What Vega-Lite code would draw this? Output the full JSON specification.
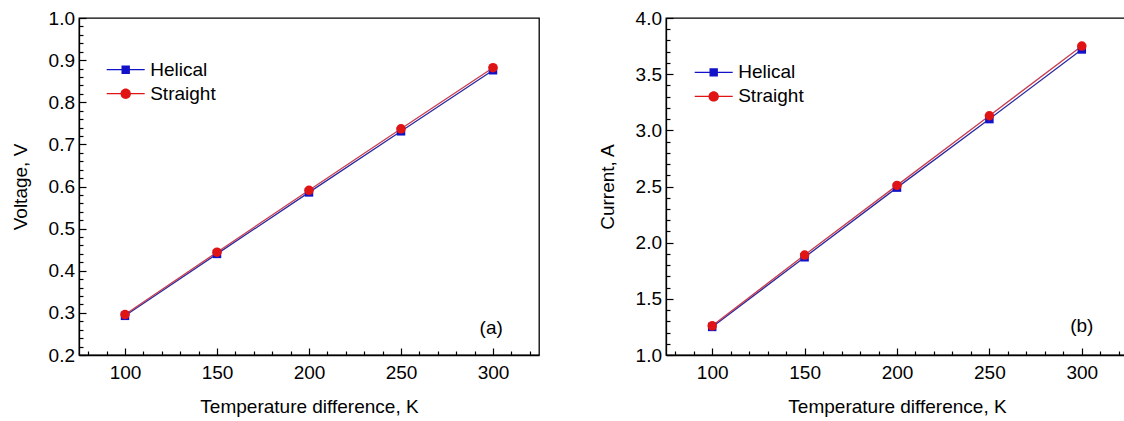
{
  "$schema": "https://vega.github.io/schema/vega-lite/v6.json",
  "background": "white",
  "padding": {"left": 10, "top": 8, "right": 0, "bottom": 0},
  "config": {
    "font": "Liberation Sans",
    "view": {"stroke": "black", "strokeWidth": 1.3},
    "axis": {
      "grid": false,
      "domainColor": "black",
      "domainWidth": 1.3,
      "tickColor": "black",
      "tickWidth": 1.2,
      "labelFont": "Liberation Sans",
      "labelFontSize": 19,
      "labelColor": "black",
      "titleFont": "Liberation Sans",
      "titleFontSize": 19,
      "titleFontWeight": "normal",
      "titleColor": "black",
      "labelOverlap": false,
      "labelBound": false,
      "labelFlush": false
    },
    "legend": {
      "title": null, "padding": 0,
      "labelFontSize": 19, "labelColor": "black", "labelFont": "Liberation Sans",
      "symbolSize": 400, "symbolStrokeWidth": 0, "symbolOpacity": 1, "labelOffset": 14.5, "rowPadding": 4
    }
  },
  "datasets": {
    "voltage": [
      {"series": "Helical", "dT": 100, "value": 0.293},
      {"series": "Helical", "dT": 150, "value": 0.440},
      {"series": "Helical", "dT": 200, "value": 0.586},
      {"series": "Helical", "dT": 250, "value": 0.731},
      {"series": "Helical", "dT": 300, "value": 0.876},
      {"series": "Straight", "dT": 100, "value": 0.296},
      {"series": "Straight", "dT": 150, "value": 0.444},
      {"series": "Straight", "dT": 200, "value": 0.591},
      {"series": "Straight", "dT": 250, "value": 0.737},
      {"series": "Straight", "dT": 300, "value": 0.882}
    ],
    "current": [
      {"series": "Helical", "dT": 100, "value": 1.25},
      {"series": "Helical", "dT": 150, "value": 1.87},
      {"series": "Helical", "dT": 200, "value": 2.49},
      {"series": "Helical", "dT": 250, "value": 3.10},
      {"series": "Helical", "dT": 300, "value": 3.72},
      {"series": "Straight", "dT": 100, "value": 1.26},
      {"series": "Straight", "dT": 150, "value": 1.89},
      {"series": "Straight", "dT": 200, "value": 2.51},
      {"series": "Straight", "dT": 250, "value": 3.13},
      {"series": "Straight", "dT": 300, "value": 3.75}
    ]
  },
  "hconcat": [
    {
      "width": 460,
      "height": 337,
      "data": {"name": "voltage"},
      "layer": [
        {
          "transform": [{"filter": "datum.series === 'Helical'"}],
          "mark": {"type": "line", "color": "#2a2aa0", "strokeWidth": 1.3},
          "encoding": {
            "x": {"field": "dT", "type": "quantitative", "scale": {"domain": [75, 325], "nice": false, "zero": false},
              "axis": {"orient": "bottom", "title": "Temperature difference, K", "values": [100, 150, 200, 250, 300], "tickSize": -7, "labelPadding": 15.5, "titlePadding": 15}},
            "y": {"field": "value", "type": "quantitative", "scale": {"domain": [0.2, 1.0], "nice": false, "zero": false},
              "axis": {"orient": "left", "title": "Voltage, V", "values": [0.2, 0.3, 0.4, 0.5, 0.6, 0.7, 0.8, 0.9, 1.0], "format": ".1f", "tickSize": -7, "labelPadding": 11.5, "titlePadding": 18}}
          }
        },
        {
          "transform": [{"filter": "datum.series === 'Straight'"}],
          "mark": {"type": "line", "color": "#c83c50", "strokeWidth": 1.3},
          "encoding": {
            "x": {"field": "dT", "type": "quantitative", "scale": {"domain": [75, 325], "nice": false, "zero": false},
              "axis": {"orient": "bottom", "title": null, "values": [80,90,110,120,130,140,160,170,180,190,210,220,230,240,260,270,280,290,310,320], "tickSize": -4, "labels": false, "domain": false}},
            "y": {"field": "value", "type": "quantitative", "scale": {"domain": [0.2, 1.0], "nice": false, "zero": false},
              "axis": {"orient": "left", "title": null, "values": [0.22,0.24,0.26,0.28,0.32,0.34,0.36,0.38,0.42,0.44,0.46,0.48,0.52,0.54,0.56,0.58,0.62,0.64,0.66,0.68,0.72,0.74,0.76,0.78,0.82,0.84,0.86,0.88,0.92,0.94,0.96,0.98], "tickSize": -4, "labels": false, "domain": false}}
          }
        },
        {
          "transform": [{"filter": "datum.series === 'Helical'"}],
          "mark": {"type": "point", "shape": "square", "filled": true, "opacity": 1, "size": 72, "color": "#1212c8"},
          "encoding": {
            "x": {"field": "dT", "type": "quantitative", "scale": {"domain": [75, 325], "nice": false, "zero": false}, "axis": null},
            "y": {"field": "value", "type": "quantitative", "scale": {"domain": [0.2, 1.0], "nice": false, "zero": false}, "axis": null}
          }
        },
        {
          "transform": [{"filter": "datum.series === 'Straight'"}],
          "mark": {"type": "point", "shape": "circle", "filled": true, "opacity": 1, "size": 90, "color": "#e01414"},
          "encoding": {
            "x": {"field": "dT", "type": "quantitative", "scale": {"domain": [75, 325], "nice": false, "zero": false}, "axis": null},
            "y": {"field": "value", "type": "quantitative", "scale": {"domain": [0.2, 1.0], "nice": false, "zero": false}, "axis": null}
          }
        },
        {
          "mark": {"type": "point", "filled": true, "opacity": 0},
          "encoding": {
            "x": {"field": "dT", "type": "quantitative", "scale": {"domain": [75, 325], "nice": false, "zero": false}, "axis": null},
            "y": {"field": "value", "type": "quantitative", "scale": {"domain": [0.2, 1.0], "nice": false, "zero": false}, "axis": null},
            "color": {
              "field": "series", "type": "nominal",
              "scale": {"domain": ["Helical", "Straight"], "range": ["#1212c8", "#e01414"]},
              "legend": {"orient": "none", "legendX": 36.7, "legendY": 41.7}
            },
            "shape": {
              "field": "series", "type": "nominal",
              "scale": {"domain": ["Helical", "Straight"], "range": ["M-1.9,-0.065H1.9V0.065H-1.9ZM-0.42,-0.42H0.42V0.42H-0.42Z", "M-1.9,-0.065H1.9V0.065H-1.9ZM-0.52,0A0.52,0.52,0,1,1,0.52,0A0.52,0.52,0,1,1,-0.52,0Z"]},
              "legend": {"orient": "none", "legendX": 36.7, "legendY": 41.7}
            }
          }
        },
        {
          "transform": [{"filter": "datum.series === 'Straight' && datum.dT === 300"}],
          "mark": {"type": "text", "fontSize": 19, "font": "Liberation Sans", "color": "black", "align": "center", "baseline": "middle"},
          "encoding": {
            "x": {"datum": 299, "type": "quantitative", "scale": {"domain": [75, 325], "nice": false, "zero": false}, "axis": null},
            "y": {"datum": 0.264, "type": "quantitative", "scale": {"domain": [0.2, 1.0], "nice": false, "zero": false}, "axis": null},
            "text": {"value": "(a)"}
          }
        }
      ],
      "resolve": {"axis": {"x": "independent", "y": "independent"}}
    },
    {
      "width": 462,
      "height": 337,
      "data": {"name": "current"},
      "layer": [
        {
          "transform": [{"filter": "datum.series === 'Helical'"}],
          "mark": {"type": "line", "color": "#2a2aa0", "strokeWidth": 1.3},
          "encoding": {
            "x": {"field": "dT", "type": "quantitative", "scale": {"domain": [75, 325], "nice": false, "zero": false},
              "axis": {"orient": "bottom", "title": "Temperature difference, K", "values": [100, 150, 200, 250, 300], "tickSize": -7, "labelPadding": 15.5, "titlePadding": 15}},
            "y": {"field": "value", "type": "quantitative", "scale": {"domain": [1.0, 4.0], "nice": false, "zero": false},
              "axis": {"orient": "left", "title": "Current, A", "values": [1.0, 1.5, 2.0, 2.5, 3.0, 3.5, 4.0], "format": ".1f", "tickSize": -7, "labelPadding": 11.5, "titlePadding": 18}}
          }
        },
        {
          "transform": [{"filter": "datum.series === 'Straight'"}],
          "mark": {"type": "line", "color": "#c83c50", "strokeWidth": 1.3},
          "encoding": {
            "x": {"field": "dT", "type": "quantitative", "scale": {"domain": [75, 325], "nice": false, "zero": false},
              "axis": {"orient": "bottom", "title": null, "values": [80,90,110,120,130,140,160,170,180,190,210,220,230,240,260,270,280,290,310,320], "tickSize": -4, "labels": false, "domain": false}},
            "y": {"field": "value", "type": "quantitative", "scale": {"domain": [1.0, 4.0], "nice": false, "zero": false},
              "axis": {"orient": "left", "title": null, "values": [1.1,1.2,1.3,1.4,1.6,1.7,1.8,1.9,2.1,2.2,2.3,2.4,2.6,2.7,2.8,2.9,3.1,3.2,3.3,3.4,3.6,3.7,3.8,3.9], "tickSize": -4, "labels": false, "domain": false}}
          }
        },
        {
          "transform": [{"filter": "datum.series === 'Helical'"}],
          "mark": {"type": "point", "shape": "square", "filled": true, "opacity": 1, "size": 72, "color": "#1212c8"},
          "encoding": {
            "x": {"field": "dT", "type": "quantitative", "scale": {"domain": [75, 325], "nice": false, "zero": false}, "axis": null},
            "y": {"field": "value", "type": "quantitative", "scale": {"domain": [1.0, 4.0], "nice": false, "zero": false}, "axis": null}
          }
        },
        {
          "transform": [{"filter": "datum.series === 'Straight'"}],
          "mark": {"type": "point", "shape": "circle", "filled": true, "opacity": 1, "size": 90, "color": "#e01414"},
          "encoding": {
            "x": {"field": "dT", "type": "quantitative", "scale": {"domain": [75, 325], "nice": false, "zero": false}, "axis": null},
            "y": {"field": "value", "type": "quantitative", "scale": {"domain": [1.0, 4.0], "nice": false, "zero": false}, "axis": null}
          }
        },
        {
          "mark": {"type": "point", "filled": true, "opacity": 0},
          "encoding": {
            "x": {"field": "dT", "type": "quantitative", "scale": {"domain": [75, 325], "nice": false, "zero": false}, "axis": null},
            "y": {"field": "value", "type": "quantitative", "scale": {"domain": [1.0, 4.0], "nice": false, "zero": false}, "axis": null},
            "color": {
              "field": "series", "type": "nominal",
              "scale": {"domain": ["Helical", "Straight"], "range": ["#1212c8", "#e01414"]},
              "legend": {"orient": "none", "legendX": 37.7, "legendY": 44.4}
            },
            "shape": {
              "field": "series", "type": "nominal",
              "scale": {"domain": ["Helical", "Straight"], "range": ["M-1.9,-0.065H1.9V0.065H-1.9ZM-0.42,-0.42H0.42V0.42H-0.42Z", "M-1.9,-0.065H1.9V0.065H-1.9ZM-0.52,0A0.52,0.52,0,1,1,0.52,0A0.52,0.52,0,1,1,-0.52,0Z"]},
              "legend": {"orient": "none", "legendX": 37.7, "legendY": 44.4}
            }
          }
        },
        {
          "transform": [{"filter": "datum.series === 'Straight' && datum.dT === 300"}],
          "mark": {"type": "text", "fontSize": 19, "font": "Liberation Sans", "color": "black", "align": "center", "baseline": "middle"},
          "encoding": {
            "x": {"datum": 300, "type": "quantitative", "scale": {"domain": [75, 325], "nice": false, "zero": false}, "axis": null},
            "y": {"datum": 1.26, "type": "quantitative", "scale": {"domain": [1.0, 4.0], "nice": false, "zero": false}, "axis": null},
            "text": {"value": "(b)"}
          }
        }
      ],
      "resolve": {"axis": {"x": "independent", "y": "independent"}}
    }
  ],
  "resolve": {"scale": {"color": "independent", "shape": "independent", "x": "independent", "y": "independent"}, "legend": {"color": "independent", "shape": "independent"}},
  "bounds": "flush",
  "spacing": 127
}
